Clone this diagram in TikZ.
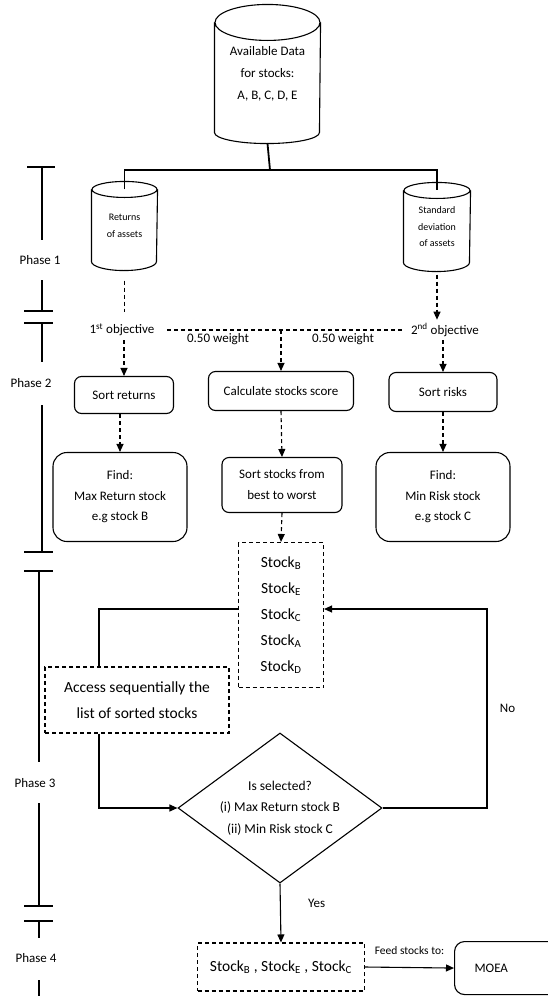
\documentclass[tikz,border=0pt]{standalone}
\usepackage{fontspec}
\setmainfont{Carlito}
\usetikzlibrary{arrows.meta,shapes.geometric,positioning}

% outline of a data store round a named node: node, x radius, top y radius, bottom y radius
\newcommand{\drum}[4]{%
  \draw ([yshift=-#3]#1.north) ellipse [x radius=#2, y radius=#3]
        ([yshift=-#3]#1.north west) -- ([yshift=#4]#1.south west)
        arc [start angle=180, end angle=360, x radius=#2, y radius=#4]
        -- ([yshift=-#3]#1.north east);}

\begin{document}
\begin{tikzpicture}[x=1pt,y=-1pt,>={Triangle[length=8pt,width=7pt]},line width=1.1pt,
    every node/.style={font=\fontsize{13}{21}\selectfont},
    db/.style={inner sep=0pt,align=center},
    roundbox/.style={draw,rounded corners=7pt,align=center},
    findbox/.style={draw,rounded corners=14pt,align=center,font=\fontsize{13}{20.5}\selectfont},
    dashbox/.style={draw,dashline,align=center,font=\fontsize{15.5}{26}\selectfont},
    dashline/.style={dash pattern=on 4pt off 3pt},
    tree/.style={line width=1.8pt}]

    \useasboundingbox (0,0) rectangle (548,996);

    % data stores
    \node[db,minimum width=105pt,minimum height=138pt,font=\fontsize{13}{22}\selectfont]
        (data) at (267.5,74) {Available Data\\for stocks:\\A, B, C, D, E};
    \node[db,minimum width=65pt,minimum height=88pt,font=\fontsize{10}{17}\selectfont]
        (ret) at (124.5,226) {Returns\\of assets};
    \node[db,minimum width=66pt,minimum height=88pt,font=\fontsize{10}{16.5}\selectfont]
        (std) at (437,227) {Standard\\deviation\\of assets};
    \drum{data}{52.5pt}{18pt}{11pt}
    \drum{ret}{32.5pt}{8pt}{9pt}
    \drum{std}{33pt}{8pt}{9pt}

    \coordinate (split) at (270,170);
    \draw[tree] (data.south) -- (split);
    \draw[tree] ([yshift=-8pt]ret.north) |- (split) -| ([yshift=-8pt]std.north);

    % objectives
    \node (obj1) at (122,330) {1\textsuperscript{st} objective};
    \node (obj2) at (445,330) {2\textsuperscript{nd} objective};
    \node (w1) at (218,339) {0.50 weight};
    \node (w2) at (343,339) {0.50 weight};

    % phase 2 boxes
    \node[roundbox,minimum width=99pt,minimum height=37pt] (sortret) at (124,395) {Sort returns};
    \node[roundbox,minimum width=145pt,minimum height=39pt] (calc) at (281,391) {Calculate stocks score};
    \node[roundbox,minimum width=108pt,minimum height=39pt] (sortrisk) at (443,392) {Sort risks};
    \node[findbox,minimum width=134pt,minimum height=89pt] (maxret) at (120,497) {Find:\\Max Return stock\\e.g stock B};
    \node[roundbox,minimum width=120pt,minimum height=55pt] (sortall) at (282,485) {Sort stocks from\\best to worst};
    \node[findbox,minimum width=134pt,minimum height=89pt] (minrisk) at (443,497) {Find:\\Min Risk stock\\e.g stock C};

    % phase 3
    \node[dashbox,minimum width=85pt,minimum height=145pt] (list) at (281,615)
        {Stock\textsubscript{B}\\Stock\textsubscript{E}\\Stock\textsubscript{C}\\Stock\textsubscript{A}\\Stock\textsubscript{D}};
    \node[dashbox,minimum width=184pt,minimum height=66pt] (access) at (137,700)
        {Access sequentially the\\list of sorted stocks};
    \node[draw,diamond,aspect=1.36,inner sep=0pt,minimum width=204pt,minimum height=150pt,align=center,
        font=\fontsize{13.5}{21.5}\selectfont] (sel) at (280,808)
        {Is selected?\\(i) Max Return stock B\\(ii) Min Risk stock C};
    \coordinate (back) at (487,609);

    % phase 4
    \node[dashbox,minimum width=167pt,minimum height=48pt] (chosen) at (281,967)
        {Stock\textsubscript{B} , Stock\textsubscript{E} , Stock\textsubscript{C}};
    \node[roundbox,rounded corners=10pt,anchor=north west,minimum height=53pt,text width=90pt,
        align=left,inner xsep=20pt] (moea) at (454,941) {MOEA};

    % dashed flow
    \draw[dashline,shorten <=10pt,shorten >=8pt] (ret.south) -- (ret.south |- obj1.north);
    \draw[dashline,->,shorten <=3pt] (std.south) -- (std.south |- obj2.north);
    \draw[dashline,shorten <=9pt,shorten >=2pt] (obj1.east) -- (obj2.west);
    \draw[dashline,->] (obj1.east -| calc.north) -- (calc.north);
    \draw[dashline,->] (sortret.north |- obj1.south) -- (sortret.north);
    \draw[dashline,->] (sortrisk.north |- obj2.south) -- (sortrisk.north);
    \draw[dashline,->] (maxret.north |- sortret.south) -- (maxret.north);
    \draw[dashline,->] (calc.south) -- (sortall.north);
    \draw[dashline,->] (minrisk.north |- sortrisk.south) -- (minrisk.north);
    \draw[dashline,->] (sortall.south) -- (list.north);

    % solid flow
    \draw ([yshift=6pt]list.west) -| ([xshift=-38pt]access.north);
    \draw[->] ([xshift=-38pt]access.south) |- (sel.west);
    \draw[->] (sel.east) -| node[pos=0.75,right=9pt] (nolbl) {No} (back) -- ([yshift=6pt]list.east);
    \draw[->] (sel.south) -- node[pos=0.33,right=24pt] (yeslbl) {Yes} (chosen.north);
    \draw[->] (chosen.east) -- node[midway,above=9pt,font=\fontsize{11.5}{14}\selectfont] (feed) {Feed stocks to:} (moea.west);

    % phase bar
    \node (ph1) at (40,260) {Phase 1};
    \node (ph2) at (31,383) {Phase 2};
    \node (ph3) at (35,783) {Phase 3};
    \node (ph4) at (36,958) {Phase 4};
    \draw (27,167) -- (55,167);
    \foreach \y in {311,323,552,571,906,921}
        \draw (24,\y) -- (53,\y);
    \draw (42,167) -- (42,240);
    \draw (42,280) -- (42,311);
    \draw (42,323) -- (42,362);
    \draw (42,405) -- (42,552);
    \draw (39,571) -- (39,762);
    \draw (39,803) -- (39,906);
    \draw (39,921) -- (39,938);
    \draw (39,980) -- (39,996);
\end{tikzpicture}
\end{document}
